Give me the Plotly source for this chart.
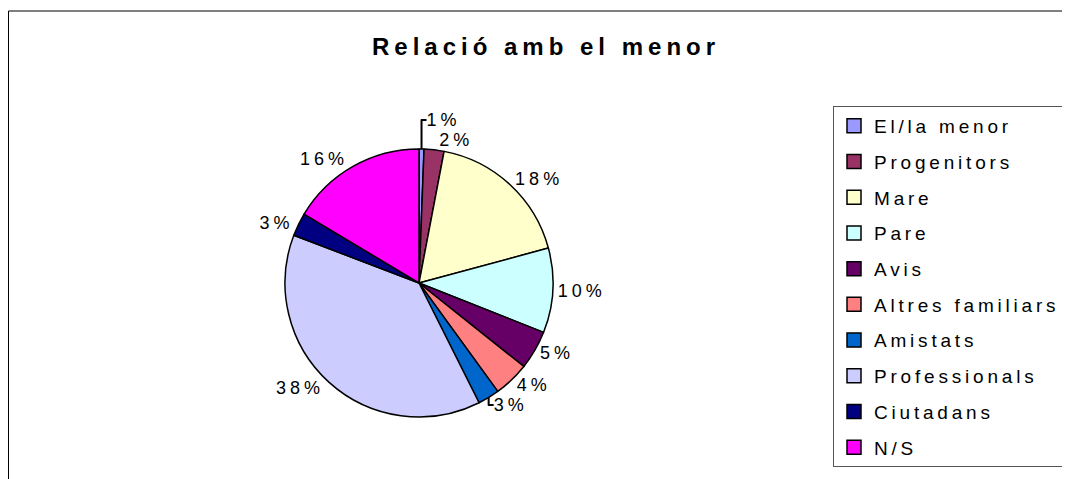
import plotly.graph_objects as go

categories = ["El/la menor", "Progenitors", "Mare", "Pare", "Avis",
              "Altres familiars", "Amistats", "Professionals", "Ciutadans", "N/S"]
values = [0.6, 2.4, 17.8, 10.2, 4.7, 4.3, 2.6, 38.2, 2.8, 16.4]
colors = ["#9999FF", "#993366", "#FFFFCC", "#CCFFFF", "#660066",
          "#FF8080", "#0066CC", "#CCCCFF", "#000080", "#FF00FF"]

# page body adds an 8px offset, so the figure is a bit smaller than the window
W, H = 1062, 471
cx, cy, r = 411, 275, 134
FONT = "Liberation Sans, Arial"

fig = go.Figure()
fig.add_trace(go.Pie(
    labels=categories,
    values=values,
    sort=False,
    direction="clockwise",
    rotation=0,
    showlegend=False,
    marker=dict(colors=colors, line=dict(color="black", width=1.5)),
    texttemplate="<span style='letter-spacing:4px'>%{percent:.0%}</span>",
    textposition="outside",
    textfont=dict(family=FONT, size=18, color="black"),
    hoverinfo="label+percent",
    domain=dict(x=[(cx - r) / W, (cx + r) / W],
                y=[1 - (cy + r) / H, 1 - (cy - r) / H]),
))

# legend entries (one group each so the spacing can be widened)
for name, col in zip(categories, colors):
    fig.add_trace(go.Scatter(
        x=[None], y=[None], mode="markers",
        name=f"<span style='letter-spacing:3.8px'>{name}</span>",
        legendgroup=name,
        marker=dict(symbol="square", size=14, color=col, line=dict(color="black", width=1.5)),
    ))

fig.update_layout(
    title=dict(text="<b><span style='letter-spacing:5px'>Relació amb el menor</span></b>",
               x=538 / W, xanchor="center", y=1 - 39 / H, yanchor="middle",
               font=dict(family=FONT, size=24, color="black")),
    width=W, height=H,
    margin=dict(l=0, r=0, t=0, b=0, autoexpand=False),
    paper_bgcolor="white",
    plot_bgcolor="white",
    xaxis=dict(visible=False),
    yaxis=dict(visible=False),
    showlegend=True,
    legend=dict(x=825 / W, y=1 - 98 / H, xanchor="left", yanchor="top",
                bordercolor="#555555", borderwidth=1, tracegroupgap=8,
                font=dict(family=FONT, size=19, color="black"),
                itemwidth=30, traceorder="grouped", itemclick=False),
    shapes=[dict(type="rect", xref="paper", yref="paper",
                 x0=0.5 / W, x1=1.02, y0=-0.02, y1=1 - 3 / H,
                 line=dict(color="black", width=1))],
)

fig.write_html("out.html")
